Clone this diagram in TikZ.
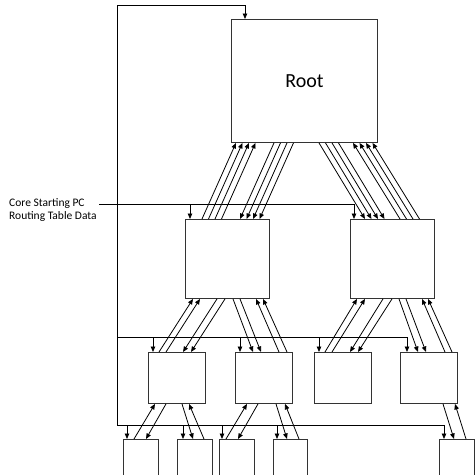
\documentclass[tikz,border=0pt]{standalone}
\usepackage{fontspec}
\setmainfont{Carlito}
\usetikzlibrary{arrows.meta,calc}
\begin{document}
\begin{tikzpicture}[x=1pt,y=-1pt,
  box/.style={draw=black!80,line width=0.9pt,inner sep=0pt,anchor=north west},
  arr/.style={line width=0.8pt,-{Triangle[length=5.5pt,width=4.5pt]}},
  wire/.style={line width=0.8pt}]
\useasboundingbox (0,0) rectangle (475,475);
% boxes
\node[box,minimum width=146pt,minimum height=123pt,font=\fontsize{20}{24}\selectfont] (root) at (231,19) {Root};
\node[box,minimum width=84pt,minimum height=79pt] (l2a) at (185,219) {};
\node[box,minimum width=84pt,minimum height=79pt] (l2b) at (350,219) {};
\node[box,minimum width=57pt,minimum height=51pt] (l3a) at (148,352) {};
\node[box,minimum width=57pt,minimum height=51pt] (l3b) at (235,352) {};
\node[box,minimum width=57pt,minimum height=51pt] (l3c) at (314,352) {};
\node[box,minimum width=57pt,minimum height=51pt] (l3d) at (400,352) {};
\node[box,minimum width=35pt,minimum height=40pt] (l4a) at (123,439) {};
\node[box,minimum width=35pt,minimum height=40pt] (l4b) at (177,439) {};
\node[box,minimum width=35pt,minimum height=40pt] (l4c) at (219,439) {};
\node[box,minimum width=34pt,minimum height=40pt] (l4d) at (273,439) {};
\node[box,minimum width=35pt,minimum height=40pt] (l4e) at (439,439) {};
% label
\node[anchor=north west,align=left,inner sep=0pt,font=\fontsize{11.5}{12.5}\selectfont] (lbl) at (9,198.5) {Core Starting PC\\Routing Table Data};
\coordinate (cs) at (99,204);
% root <-> level 2
\foreach \a/\b in {17/5, 23.5/11.5, 30/18, 36.5/24.5}
  \draw[arr] ($(l2a.north west)+(\a,0)$) -- ($(root.south west)+(\b,0)$);
\foreach \a/\b in {43/55, 49.5/61.5, 56/68, 62.5/74.5}
  \draw[arr] ($(root.south west)+(\a,0)$) -- ($(l2a.north west)+(\b,0)$);
\foreach \a/\b in {88/15, 94.5/21.5, 101/28, 107.5/34.5}
  \draw[arr] ($(root.south west)+(\a,0)$) -- ($(l2b.north west)+(\b,0)$);
\foreach \a/\b in {50/122, 56.5/128.5, 63/135, 69.5/141.5}
  \draw[arr] ($(l2b.north west)+(\a,0)$) -- ($(root.south west)+(\b,0)$);
% level 2 <-> level 3
\foreach \a/\b in {11/8, 18/15} \draw[arr] ($(l3a.north west)+(\a,0)$) -- ($(l2a.south west)+(\b,0)$);
\foreach \a/\b in {32/35, 40/43} \draw[arr] ($(l2a.south west)+(\a,0)$) -- ($(l3a.north west)+(\b,0)$);
\foreach \a/\b in {48/18, 55/26} \draw[arr] ($(l2a.south west)+(\a,0)$) -- ($(l3b.north west)+(\b,0)$);
\foreach \a/\b in {44/71, 52/78} \draw[arr] ($(l3b.north west)+(\a,0)$) -- ($(l2a.south west)+(\b,0)$);
\foreach \a/\b in {11/7, 18/15} \draw[arr] ($(l3c.north west)+(\a,0)$) -- ($(l2b.south west)+(\b,0)$);
\foreach \a/\b in {33/36, 42/44} \draw[arr] ($(l2b.south west)+(\a,0)$) -- ($(l3c.north west)+(\b,0)$);
\foreach \a/\b in {49/18, 56/26} \draw[arr] ($(l2b.south west)+(\a,0)$) -- ($(l3d.north west)+(\b,0)$);
\foreach \a/\b in {45/72, 52/78} \draw[arr] ($(l3d.north west)+(\a,0)$) -- ($(l2b.south west)+(\b,0)$);
% level 3 <-> level 4
\draw[arr] ($(l4a.north west)+(11,0)$) -- ($(l3a.south west)+(7,0)$);
\draw[arr] ($(l3a.south west)+(18,0)$) -- ($(l4a.north west)+(23,0)$);
\draw[arr] ($(l3a.south west)+(34,0)$) -- ($(l4b.north west)+(16,0)$);
\draw[arr] ($(l4b.north west)+(27,0)$) -- ($(l3a.south west)+(41,0)$);
\draw[arr] ($(l4c.north west)+(7,0)$) -- ($(l3b.south west)+(12,0)$);
\draw[arr] ($(l3b.south west)+(23,0)$) -- ($(l4c.north west)+(19,0)$);
\draw[arr] ($(l3b.south west)+(41,0)$) -- ($(l4d.north west)+(14,0)$);
\draw[arr] ($(l4d.north west)+(26,0)$) -- ($(l3b.south west)+(50,0)$);
\draw[arr] ($(l3d.south west)+(43,0)$) -- ($(l4e.north west)+(15,0)$);
\draw[arr] ($(l4e.north west)+(27,0)$) -- ($(l3d.south west)+(55,0)$);
% level 2 feed
\draw[arr] (cs) -| ($(l2b.north west)+(4,0)$);
\draw[arr] ($(l2a.north west)+(5,-15)$) -- ($(l2a.north west)+(5,0)$);
% loop and level 3/4 feeds
\coordinate (c1) at (117,425);
\coordinate (c2) at (117,5);
\coordinate (c3) at (117,337);
\draw[arr] (c1) -- (c2) -| ($(root.north west)+(14,0)$);
\draw[arr] (c1) -| ($(l4e.north west)+(5,0)$);
\draw[arr] (c3) -| ($(l3d.north west)+(7,0)$);
\foreach \n/\o in {l3a/5, l3b/5, l3c/5}
  \draw[arr] ($(\n.north west)+(\o,-15)$) -- ($(\n.north west)+(\o,0)$);
\foreach \n/\o in {l4a/4, l4b/6, l4c/3, l4d/4}
  \draw[arr] ($(\n.north west)+(\o,-14)$) -- ($(\n.north west)+(\o,0)$);
\end{tikzpicture}
\end{document}
